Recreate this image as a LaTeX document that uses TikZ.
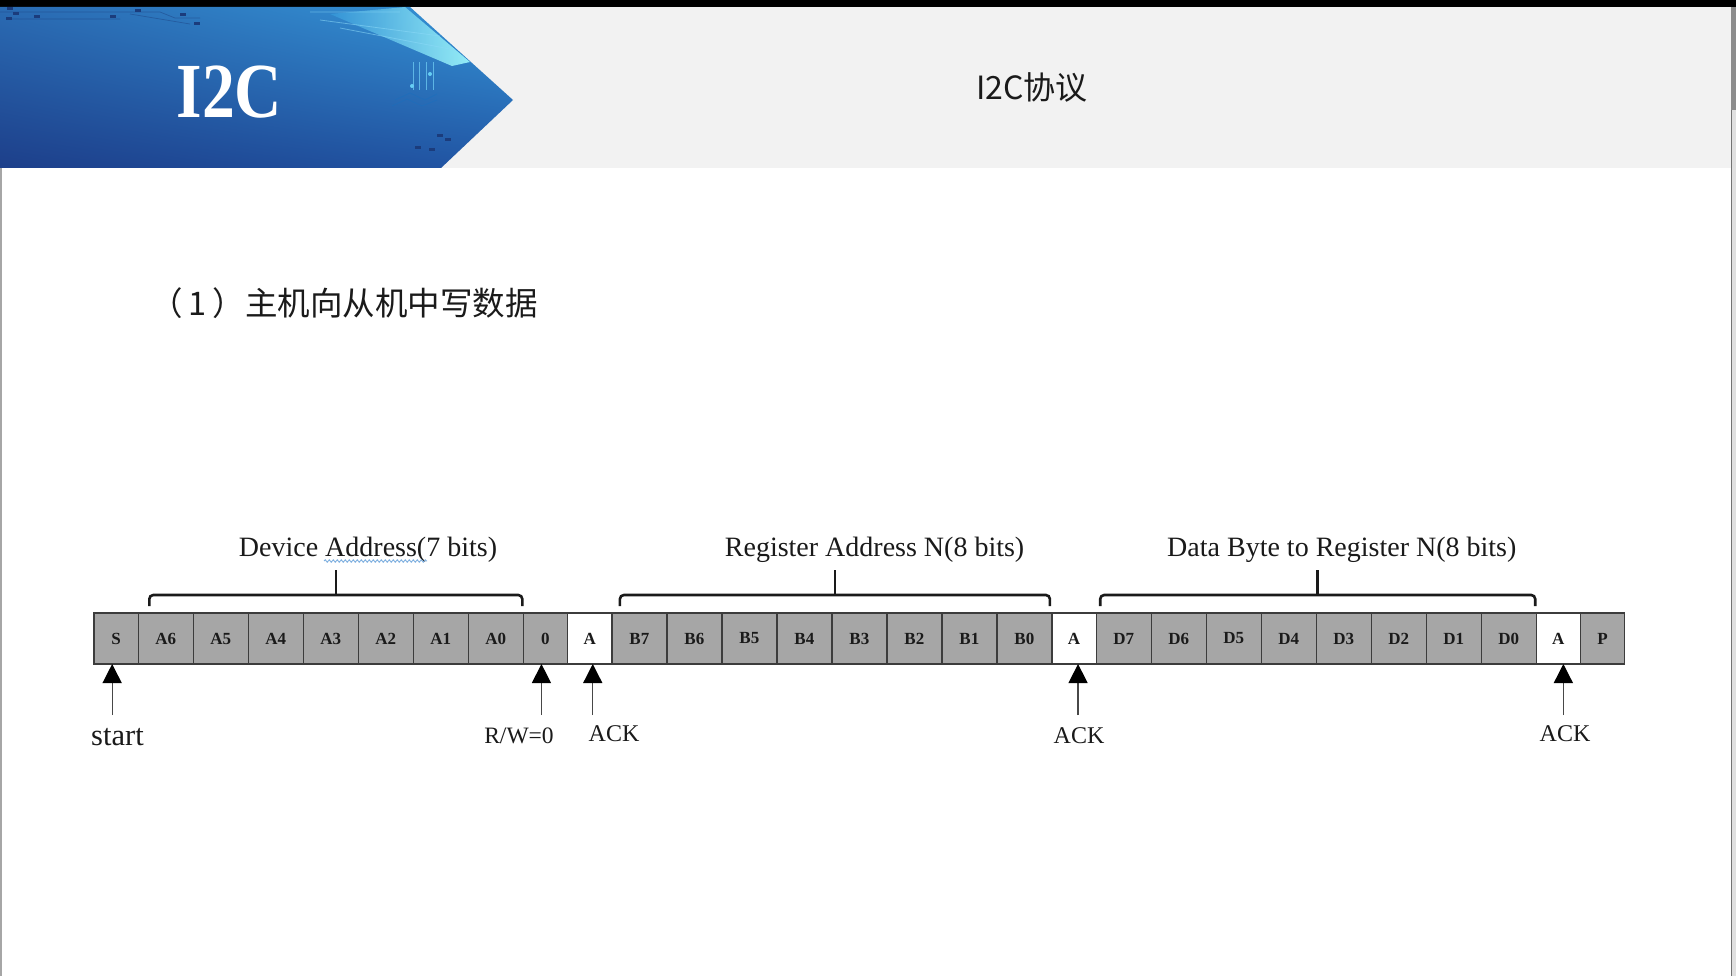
\documentclass[tikz,border=0pt]{standalone}
\usepackage{fontspec}
\setmainfont{Liberation Serif}
\newfontfamily\cjk{Noto Sans CJK SC}
\newfontfamily\banfam[FakeStretch=0.84]{Liberation Serif}
\usetikzlibrary{arrows.meta,calc,fadings,shadings,decorations.pathmorphing}
\definecolor{boxgray}{HTML}{A6A6A6}
\definecolor{boxline}{HTML}{3C3C3C}
\definecolor{hdrgray}{HTML}{F2F2F2}
\definecolor{txt}{HTML}{1A1A1A}
\definecolor{bUL}{HTML}{2A6BB3}
\definecolor{bUR}{HTML}{3596D8}
\definecolor{bLL}{HTML}{1D3F8A}
\definecolor{bLR}{HTML}{2156A5}
\definecolor{navy}{HTML}{1B3C7C}
\definecolor{squig}{HTML}{7FB0E0}
\tikzset{
  bit/.style={draw=boxline, line width=1.3pt, fill=boxgray, minimum height=51,
    inner sep=0pt, outer sep=0pt, anchor=west, text=txt,
    font=\bfseries\fontsize{17}{18}\selectfont},
  wbit/.style={bit, minimum width=55},
  nbit/.style={bit, minimum width=44.3},
  ackbit/.style={nbit, fill=white},
  brace/.style={line width=2.6pt, draw=txt, rounded corners=4pt},
  ptr/.style={line width=1.3pt, draw=txt!80, -{Triangle[length=19pt,width=19pt,color=black]}},
  toplab/.style={anchor=base, text=txt, font=\fontsize{28}{30}\selectfont},
  botlab/.style={anchor=base, text=txt, font=\fontsize{24}{26}\selectfont},
}
\begin{document}
\begin{tikzpicture}[x=1pt,y=-1pt]
\useasboundingbox (0,0) rectangle (1736,976);
\fill[white] (0,0) rectangle (1736,976);
% header
\fill[hdrgray] (0,7) rectangle (1736,168);
\fill[black] (0,0) rectangle (1736,7);
% banner
\shade[upper left=bUL, upper right=bUR, lower left=bLL, lower right=bLR]
  (0,7) -- (410,7) -- (513,100) -- (441,168) -- (0,168) -- cycle;
\begin{scope}
  \clip (0,7) -- (410,7) -- (513,100) -- (441,168) -- (0,168) -- cycle;
  \shade[left color=bUR, right color=cyan!35!white, opacity=0.85]
    (330,14) -- (405,7) -- (470,62) -- (452,66) -- cycle;
  \draw[cyan!45!white, opacity=0.55, line width=0.8pt]
    (310,12) -- (400,12) (320,20) -- (440,36) (340,28) -- (455,50);
  \foreach \xx in {413,419,426,433}{
    \draw[cyan!55!white, opacity=0.7, line width=0.8pt] (\xx,62) -- (\xx,90);
  }
  \fill[cyan!60!white] (412,86) circle (2); \fill[cyan!60!white] (430,74) circle (2);
  \draw[cyan!50!blue, opacity=0.5, line width=0.7pt]
    (395,100) -- (410,93) -- (425,100) -- (437,94)
    (392,106) -- (407,99) -- (422,106) -- (437,100);
  \draw[navy, opacity=0.45, line width=0.7pt] (0,12) -- (160,12) -- (175,18) -- (200,18)
    (10,19) -- (120,19) (130,14) -- (190,24);
  \foreach \xx/\yy in {10/9,16/14,37/17,9/19,113/17,138/11,183/15,197/24}{
    \fill[navy] (\xx-3,\yy-1.5) rectangle (\xx+3,\yy+1.5);
  }
  \foreach \xx/\yy in {418/148,432/150,448/140,440/136}{
    \fill[navy] (\xx-3,\yy-1.5) rectangle (\xx+3,\yy+1.5);
  }
\end{scope}
\node[anchor=base, text=white, font=\banfam\bfseries\fontsize{78}{80}\selectfont] (logo) at (229.5,118) {I2C};
\node[text=txt, font=\cjk\fontsize{32}{34}\selectfont] (title) at (1032,87) {I2C协议};
\node[anchor=west, inner sep=0pt, text=txt, font=\cjk\fontsize{32.5}{35}\selectfont] (sub) at (150,303) {（\hspace{6pt}1\hspace{6pt}）主机向从机中写数据};
% edges of the screen
\fill[black!12] (1731,7) rectangle (1736,976);
\draw[black!55, line width=1.5pt] (1731.5,7) -- (1731.5,976);
\fill[black!45] (1731,7) rectangle (1736,110);
\draw[black!35, line width=2pt] (1,168) -- (1,976);
% bit boxes
\node[nbit] (S) at (94,638.5) {S};
\node[wbit] (A6) at (S.east) {A6};
\node[wbit] (A5) at (A6.east) {A5};
\node[wbit] (A4) at (A5.east) {A4};
\node[wbit] (A3) at (A4.east) {A3};
\node[wbit] (A2) at (A3.east) {A2};
\node[wbit] (A1) at (A2.east) {A1};
\node[wbit] (A0) at (A1.east) {A0};
\node[nbit] (RW) at (A0.east) {0};
\node[ackbit] (K1) at (RW.east) {A};
\node[wbit] (B7) at (K1.east) {B7};
\node[wbit] (B6) at (B7.east) {B6};
\node[wbit] (B5) at (B6.east) {B5};
\node[wbit] (B4) at (B5.east) {B4};
\node[wbit] (B3) at (B4.east) {B3};
\node[wbit] (B2) at (B3.east) {B2};
\node[wbit] (B1) at (B2.east) {B1};
\node[wbit] (B0) at (B1.east) {B0};
\node[ackbit] (K2) at (B0.east) {A};
\node[wbit] (D7) at (K2.east) {D7};
\node[wbit] (D6) at (D7.east) {D6};
\node[wbit] (D5) at (D6.east) {D5};
\node[wbit] (D4) at (D5.east) {D4};
\node[wbit] (D3) at (D4.east) {D3};
\node[wbit] (D2) at (D3.east) {D2};
\node[wbit] (D1) at (D2.east) {D1};
\node[wbit] (D0) at (D1.east) {D0};
\node[ackbit] (K3) at (D0.east) {A};
\node[nbit] (P) at (K3.east) {P};
% brackets
\coordinate (devL) at ($(A6.north west)+(11,-7)$);
\coordinate (devR) at ($(A0.north east)+(-1,-7)$);
\coordinate (regL) at ($(B7.north west)+(8,-7)$);
\coordinate (regR) at ($(B0.north east)+(-2,-7)$);
\coordinate (datL) at ($(D7.north west)+(4,-7)$);
\coordinate (datR) at ($(D0.north east)+(-1,-7)$);
\foreach \l/\r in {devL/devR, regL/regR, datL/datR}{
  \draw[brace] (\l) -- ++(0,-11) -| (\r);
  \draw[brace, rounded corners=0pt] ($(\l)!0.5!(\r)+(0,-11)$) -- ++(0,-25);
}
\node[toplab] (devlab) at (368,556) {Device Address(7 bits)};
\node[toplab] (reglab) at (874.6,556) {Register Address N(8 bits)};
\node[toplab] (datlab) at (1341.8,556) {Data Byte to Register N(8 bits)};
\draw[squig, line width=0.9pt, decorate, decoration={snake, amplitude=1.2pt, segment length=4pt}] (324,561) -- (427,561);
% pointers
\coordinate (tS) at ($(S.south)+(-4,51)$);
\coordinate (tRW) at ($(RW.south)+(-4,51)$);
\coordinate (tK1) at ($(K1.south)+(3,51)$);
\coordinate (tK2) at ($(K2.south)+(4,51)$);
\coordinate (tK3) at ($(K3.south)+(5,51)$);
\draw[ptr] (tS) -- (tS |- S.south);
\draw[ptr] (tRW) -- (tRW |- RW.south);
\draw[ptr] (tK1) -- (tK1 |- K1.south);
\draw[ptr] (tK2) -- (tK2 |- K2.south);
\draw[ptr] (tK3) -- (tK3 |- K3.south);
\node[botlab, font=\fontsize{30.5}{32}\selectfont] (lstart) at (117.5,745) {start};
\node[botlab, font=\fontsize{23.5}{25}\selectfont] (lrw) at (519,743) {R/W=0};
\node[botlab] (lk1) at (614,741) {ACK};
\node[botlab] (lk2) at (1079,743) {ACK};
\node[botlab] (lk3) at (1565,741) {ACK};
\end{tikzpicture}
\end{document}
